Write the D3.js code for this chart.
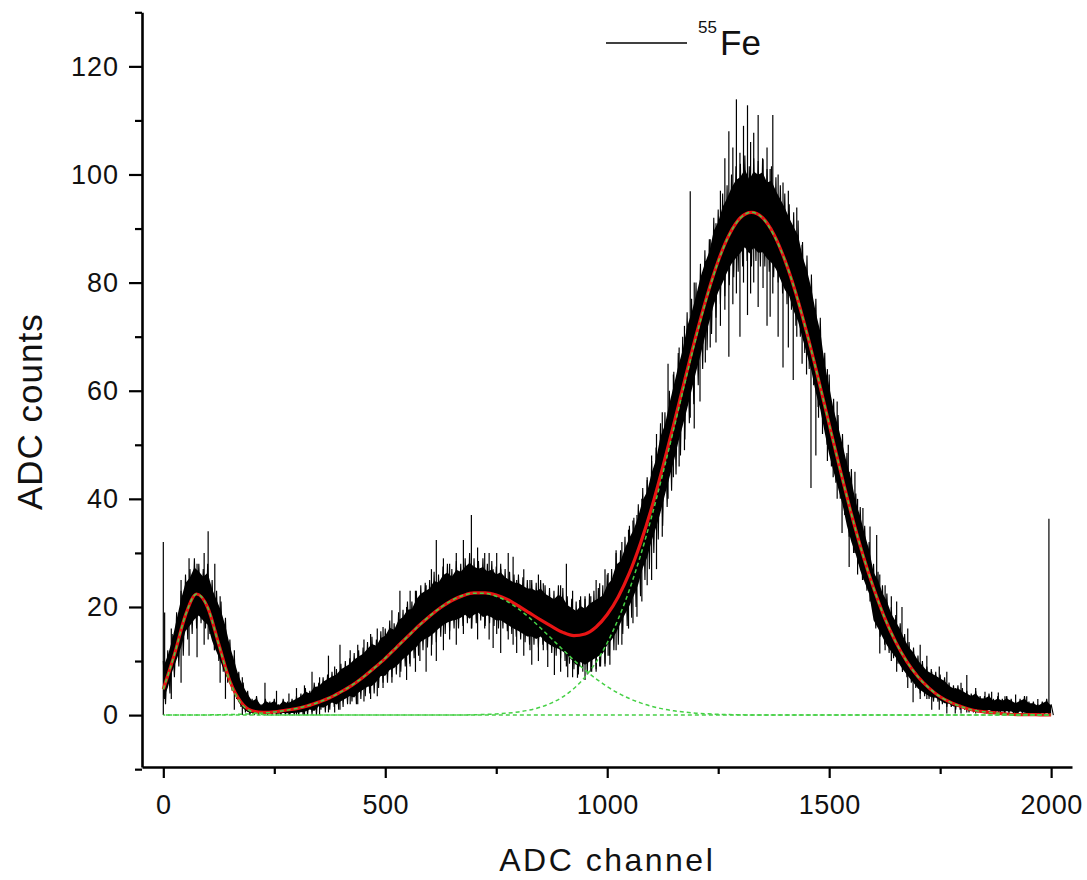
<!DOCTYPE html>
<html>
<head>
<meta charset="utf-8">
<script src="https://cdn.jsdelivr.net/npm/d3@7"></script>
<style>
  html, body { margin: 0; padding: 0; background: #fff; }
  svg { display: block; }
  text { font-family: "Liberation Sans", Arial, sans-serif; fill: #111; }
</style>
</head>
<body>
<svg id="chart" width="1087" height="880"></svg>
<script>
// ---------------- DATA ----------------
// Spectrum: per 10-channel bin, upper and lower edge of the noisy black band
const binStep = 10;
const dataHigh = [
  10, 12, 15, 19, 23, 26, 27, 29, 28, 27,
  28, 25, 23, 21, 18, 14, 11, 8, 6, 4.5,
  3, 3.5, 2, 3, 2.5, 3, 2, 3, 2.5, 3,
  3.5, 4, 5, 4.5, 6, 6, 7, 7.5, 8, 8.5,
  9.5, 10, 10.5, 11.5, 12, 12.5, 13.5, 14.5, 14, 15.5,
  16, 17.5, 17, 19, 19.5, 21, 21, 23, 24, 24.5,
  25, 26.5, 26, 27.5, 28, 27, 28.5, 28, 29, 30,
  29, 28.5, 29, 28, 28.5, 27.5, 28, 27, 26.5, 26,
  26, 25.5, 25, 25, 24.5, 25, 24, 23.5, 23, 24,
  23.5, 22, 21.5, 21, 22, 21.5, 22.5, 23, 23.5, 24,
  26, 27, 30, 30.5, 33, 35, 36.5, 39, 42, 43.5,
  47, 49.5, 54, 56, 60, 63.5, 67, 70, 74.5, 77,
  80, 83.5, 86, 88, 92, 93.5, 96.5, 98, 100, 101.5,
  102, 103.5, 101.5, 103, 102.5, 103, 101, 101.5, 99.5, 98,
  96.5, 94.5, 93, 91.5, 87.5, 85, 81.5, 77, 73.5, 67,
  63, 58.5, 55.5, 52, 48.5, 45.5, 41, 38.5, 35, 32,
  28, 26.5, 24, 22.5, 20, 18.5, 17, 15, 13.5, 12.5,
  11, 10, 9, 8.5, 8, 7.5, 7, 6, 5.5, 5.5,
  5, 4.5, 4, 4.5, 3.5, 3.5, 4, 3, 3.5, 3,
  3.5, 3, 2.5, 3, 3.5, 2.5, 2.5, 2, 2.5, 3, 2
];
const dataLow = [
  2, 4, 7, 9, 11, 14, 15, 16, 17, 16,
  15, 12, 10, 8, 6, 4.5, 3, 1.5, 0.5, 0,
  0, 0, 0, 0, 0, 0, 0, 0, 0, 0,
  0, 0, 0, 0.5, 0, 1, 0.5, 1, 1.5, 1,
  1.5, 2, 2.5, 2, 3, 3.5, 4, 4, 5, 6,
  6, 7, 7.5, 8, 9, 9.5, 10.5, 11, 12, 12.5,
  13, 13.5, 14.5, 15, 15.5, 16, 16, 16.5, 17, 16,
  17, 17.5, 16.5, 17, 16.5, 16, 16, 15.5, 15, 14.5,
  14, 13.5, 13, 13, 12.5, 13, 12, 11.5, 11, 10.5,
  10, 9.5, 8.5, 7.5, 8, 7.5, 8, 8.5, 9, 9.5,
  11, 12, 13, 15, 16.5, 18, 20, 22, 25, 27,
  30, 32.5, 35, 38.5, 41.5, 44.5, 48, 51, 54, 57.5,
  61, 64, 67.5, 70.5, 73.5, 76, 77.5, 79.5, 81, 82,
  83, 84, 83, 84, 83, 83, 82, 81, 80, 78,
  76, 75, 72, 70, 67, 64, 61, 57, 54, 50,
  46, 43, 40, 37, 33, 30, 28, 25, 23, 21,
  16, 14.5, 13, 11.5, 10.5, 9.5, 8, 7, 6, 5,
  4, 3.5, 3, 2.5, 2.5, 2, 1.5, 1.5, 1, 1,
  1, 0.5, 0.5, 0.5, 0.5, 0.3, 0.5, 0.3, 0.3, 0.3,
  0.3, 0.3, 0, 0.3, 0, 0, 0, 0, 0, 0, 0
];
// Isolated single-channel spikes: [channel, low, high]
const spikes = [
  [0, 0, 32], [3, 3, 19], [18, 3, 16], [40, 6, 25], [58, 11, 29], [76, 10.7, 28], [92, 13, 30], [101, 14, 34],
  [116, 12, 28], [128, 6, 22], [140, 3, 15], [160, 1, 12], [178, 0, 7],
  [229, 0, 6], [255, 0, 4.5], [283, 0, 4], [300, 0, 5], [318, 0, 5.5], [335, 0, 8], [352, 0, 7], [372, 0.5, 11],
  [386, 0.5, 9], [398, 1, 13], [421, 2, 12], [438, 2, 13], [452, 2.5, 14], [467, 3, 15], [482, 3.5, 16],
  [495, 5, 16.3], [515, 6, 19.4], [533, 7, 23], [548, 6.5, 20], [556, 9, 23], [568, 8, 23], [578, 10, 22],
  [592, 8, 24], [604, 11, 27], [615, 10, 32.4], [631, 12, 29], [645, 14, 28], [660, 13, 30], [676, 15, 32.4],
  [694, 16, 37], [708, 14, 31], [724, 16, 30], [734, 14, 30], [743, 12.4, 27], [751, 15, 30],
  [760, 11.5, 27], [777, 14, 30], [788, 13, 29.3], [796, 11.5, 25], [812, 11, 27], [826, 12, 25], [830, 9.3, 22],
  [845, 10, 26], [856, 12, 24.4], [866, 8.9, 22], [881, 7.4, 20], [895, 8, 24], [908, 9, 28], [911, 7, 20],
  [922, 7, 23], [933, 6.9, 19], [938, 9, 21.3], [950, 6.5, 22], [963, 8, 22], [975, 8, 25],
  [983, 9, 24.4], [995, 9, 27], [1002, 11, 26.3], [1006, 9.3, 24], [1020, 12, 30.5], [1033, 13, 32],
  [1048, 16, 34.3], [1058, 17, 36], [1067, 18.2, 37], [1078, 21, 40], [1090, 24, 44], [1100, 25, 48],
  [1111, 27, 52], [1124, 33, 56], [1137, 40, 65], [1149, 44, 63], [1162, 46, 68], [1174, 49, 72],
  [1187, 55, 96.9], [1196, 53, 80], [1209, 58, 78], [1221, 65.2, 84], [1232, 68, 88], [1245, 68.9, 91],
  [1255, 72, 97], [1265, 75, 103], [1274, 66.3, 108], [1283, 76, 105], [1291, 78, 113.9], [1299, 70, 104],
  [1307, 80, 109], [1316, 74, 112.8], [1323, 78, 106], [1330, 80, 107.7], [1340, 75.5, 111], [1351, 79, 102.8],
  [1360, 72, 105], [1367, 73.7, 101], [1373, 78, 111], [1385, 70, 100], [1396, 64.3, 98.5], [1408, 68, 97],
  [1419, 62, 90], [1427, 70, 93.9], [1439, 65, 87], [1449, 63, 80], [1459, 42, 72], [1470, 48, 72],
  [1476, 55, 70], [1485, 52, 67], [1496, 47, 64], [1509, 44, 57], [1518, 40, 58], [1529, 33.7, 50],
  [1543, 35, 50], [1545, 27.4, 45], [1558, 30, 45], [1564, 26, 40], [1576, 25, 38.3], [1592, 21, 34.9],
  [1607, 18, 33.3], [1614, 11.4, 26], [1626, 12, 24], [1640, 10, 22], [1652, 8, 21], [1664, 9, 20],
  [1677, 5, 16], [1689, 2.4, 10.7], [1705, 3, 13], [1720, 3, 11], [1731, 1, 8], [1748, 1, 9], [1765, 0.3, 8],
  [1784, 0.3, 5], [1797, 0.3, 6], [1810, 0.5, 7.4], [1830, 0.3, 5], [1851, 0.3, 4.3], [1866, 0.3, 4.3],
  [1881, 0.2, 4.2], [1896, 0.2, 3.5], [1920, 0, 3.8], [1945, 0, 3.5], [1970, 0, 3], [1995, 0, 36.3]
];

// Fit curves sampled every 25 channels (0 ... 2000)
const fitStep = 25;
const fitTotal = [
  4.8, 11.2, 18.5, 22.4, 19.9, 13.1, 6.3, 2.4, 0.8, 0.5,
  0.6, 0.9, 1.2, 1.7, 2.4, 3.2, 4.3, 5.5, 7.0, 8.7,
  10.5, 12.5, 14.5, 16.5, 18.3, 19.9, 21.2, 22.1, 22.6, 22.6,
  22.2, 21.4, 20.2, 18.9, 17.6, 16.4, 15.3, 14.7, 15.0, 16.3,
  18.6, 21.9, 26.3, 31.8, 38.3, 45.8, 53.8, 62.1, 70.2, 77.6,
  84.0, 88.9, 92.0, 93.0, 92.0, 89.0, 84.2, 78.0, 70.6, 62.4,
  53.8, 45.3, 37.2, 29.9, 23.5, 18.0, 13.5, 9.9, 7.1, 5.0,
  3.4, 2.3, 1.5, 0.9, 0.6, 0.4, 0.2, 0.1, 0.1, 0.05, 0.02
];
const peak1 = [
  4.8, 11.2, 18.5, 22.4, 19.9, 13.0, 6.2, 2.2, 0.6, 0.1,
  0, 0, 0, 0, 0, 0, 0, 0, 0, 0,
  0, 0, 0, 0, 0, 0, 0, 0, 0, 0,
  0, 0, 0, 0, 0, 0, 0, 0, 0, 0,
  0, 0, 0, 0, 0, 0, 0, 0, 0, 0,
  0, 0, 0, 0, 0, 0, 0, 0, 0, 0,
  0, 0, 0, 0, 0, 0, 0, 0, 0, 0,
  0, 0, 0, 0, 0, 0, 0, 0, 0, 0, 0
];
const peak2 = [
  0, 0, 0, 0, 0.04, 0.07, 0.1, 0.16, 0.25, 0.39,
  0.58, 0.86, 1.23, 1.74, 2.4, 3.24, 4.28, 5.54, 7.02, 8.7,
  10.54, 12.5, 14.51, 16.49, 18.33, 19.94, 21.23, 22.13, 22.56, 22.51,
  21.98, 21.01, 19.65, 17.98, 16.1, 14.11, 12.1, 10.15, 8.34, 6.71,
  5.27, 4.06, 3.06, 2.26, 1.63, 1.15, 0.79, 0.54, 0.36, 0.24,
  0.15, 0.09, 0.05, 0.03, 0.02, 0, 0, 0, 0, 0,
  0, 0, 0, 0, 0, 0, 0, 0, 0, 0,
  0, 0, 0, 0, 0, 0, 0, 0, 0, 0, 0
];
const peak3 = [
  0, 0, 0, 0, 0, 0, 0, 0, 0, 0,
  0, 0, 0, 0, 0, 0, 0, 0, 0, 0,
  0, 0, 0, 0, 0, 0, 0, 0, 0.07, 0.12,
  0.21, 0.36, 0.59, 0.94, 1.47, 2.26, 3.37, 4.93, 7.03, 9.8,
  13.36, 17.81, 23.19, 29.51, 36.7, 44.61, 52.99, 61.52, 69.8, 77.39,
  83.88, 88.82, 91.94, 93.0, 91.94, 88.82, 84.2, 78.0, 70.6, 62.4,
  53.8, 45.3, 37.2, 29.9, 23.5, 18.0, 13.5, 9.9, 7.1, 5.0,
  3.4, 2.3, 1.5, 0.9, 0.6, 0.4, 0.2, 0.1, 0.1, 0.05, 0.02
];

const xMajorTicks = [0, 500, 1000, 1500, 2000];
const xMinorTicks = [250, 750, 1250, 1750];
const yMajorTicks = [0, 20, 40, 60, 80, 100, 120];
const yMinorTicks = [-10, 10, 30, 50, 70, 90, 110, 130];
const xTitle = "ADC channel";
const yTitle = "ADC counts";
const legendSup = "55";
const legendMain = "Fe";

// ---------------- DRAWING ----------------
const svg = d3.select("#chart");
const x = d3.scaleLinear().domain([-48, 2047]).range([142, 1072]);
const y = d3.scaleLinear().domain([-9.6, 130]).range([767, 12.3]);

const band = dataHigh.map((h, i) => ({ c: i * binStep, hi: h, lo: dataLow[i] }));

// solid core of the band (inner part of each bin's range)
svg.append("path")
  .datum(band)
  .attr("d", d3.area()
    .x(d => x(d.c))
    .y0(d => y(d.lo + 0.13 * (d.hi - d.lo)))
    .y1(d => y(d.hi - 0.13 * (d.hi - d.lo))))
  .attr("fill", "#000");

// hairy outer part: zig-zag between low and high edge of each bin
const zig = [];
band.forEach(d => {
  zig.push([x(d.c), y(d.hi)]);
  zig.push([x(d.c + binStep / 2), y(d.lo)]);
});
svg.append("path")
  .attr("d", d3.line()(zig))
  .attr("fill", "none")
  .attr("stroke", "#000")
  .attr("stroke-width", 1.1);

// spikes
svg.append("g").selectAll("line").data(spikes).join("line")
  .attr("x1", d => x(d[0])).attr("x2", d => x(d[0]))
  .attr("y1", d => y(d[1])).attr("y2", d => y(d[2]))
  .attr("stroke", "#000").attr("stroke-width", 1.2);

// fit
const toPts = arr => arr.map((v, i) => ({ c: i * fitStep, v }));
const line = d3.line().x(d => x(d.c)).y(d => y(d.v)).curve(d3.curveMonotoneX);

svg.append("path")
  .datum(toPts(fitTotal))
  .attr("d", line)
  .attr("fill", "none")
  .attr("stroke", "#e81414")
  .attr("stroke-width", 3.2);

[peak1, peak2, peak3].forEach((p, k) => {
  svg.append("path")
    .datum(toPts(p))
    .attr("d", line)
    .attr("fill", "none")
    .attr("stroke", "#45d045")
    .attr("stroke-width", 1.5)
    .attr("stroke-dasharray", "4,3")
    .attr("stroke-dashoffset", k * 2.3);
});

// axes
const axisColor = "#000";
const gx = svg.append("g").attr("transform", `translate(0,${y.range()[0]})`);
gx.call(d3.axisBottom(x).tickValues(xMajorTicks).tickSize(11).tickPadding(17).tickSizeOuter(0).tickFormat(d3.format("d")));
gx.append("g").call(d3.axisBottom(x).tickValues(xMinorTicks).tickSize(7).tickFormat("")).select(".domain").remove();
gx.selectAll(".domain").attr("stroke", axisColor).attr("stroke-width", 2.6);
gx.selectAll(".tick line").attr("stroke", axisColor).attr("stroke-width", 2.2);
gx.selectAll(".tick text").style("font-size", "27px").attr("fill", "#111").style("letter-spacing", "0.5px");

const gy = svg.append("g").attr("transform", `translate(${x.range()[0]},0)`);
gy.call(d3.axisLeft(y).tickValues(yMajorTicks).tickSize(13).tickPadding(10).tickSizeOuter(0));
gy.append("g").call(d3.axisLeft(y).tickValues(yMinorTicks).tickSize(7).tickFormat("")).select(".domain").remove();
gy.selectAll(".domain").attr("stroke", axisColor).attr("stroke-width", 2.6);
gy.selectAll(".tick line").attr("stroke", axisColor).attr("stroke-width", 2.2);
gy.selectAll(".tick text").style("font-size", "27px").attr("fill", "#111").style("letter-spacing", "1px");

// titles
svg.append("text")
  .attr("x", (x(0) + x(2000)) / 2).attr("y", 871)
  .attr("text-anchor", "middle")
  .style("font-size", "32px").style("letter-spacing", "2.5px")
  .text(xTitle);

svg.append("text")
  .attr("transform", `translate(42,${(y(0) + y(120)) / 2 + 21}) rotate(-90)`)
  .attr("text-anchor", "middle")
  .style("font-size", "35px").style("letter-spacing", "1px")
  .text(yTitle);

// legend
const lg = svg.append("g");
lg.append("line").attr("x1", 606).attr("x2", 687).attr("y1", 43).attr("y2", 43)
  .attr("stroke", "#000").attr("stroke-width", 1.4);
lg.append("text").attr("x", 698).attr("y", 33).style("font-size", "17px").text(legendSup);
lg.append("text").attr("x", 720).attr("y", 55).style("font-size", "35px").text(legendMain);
</script>
</body>
</html>
